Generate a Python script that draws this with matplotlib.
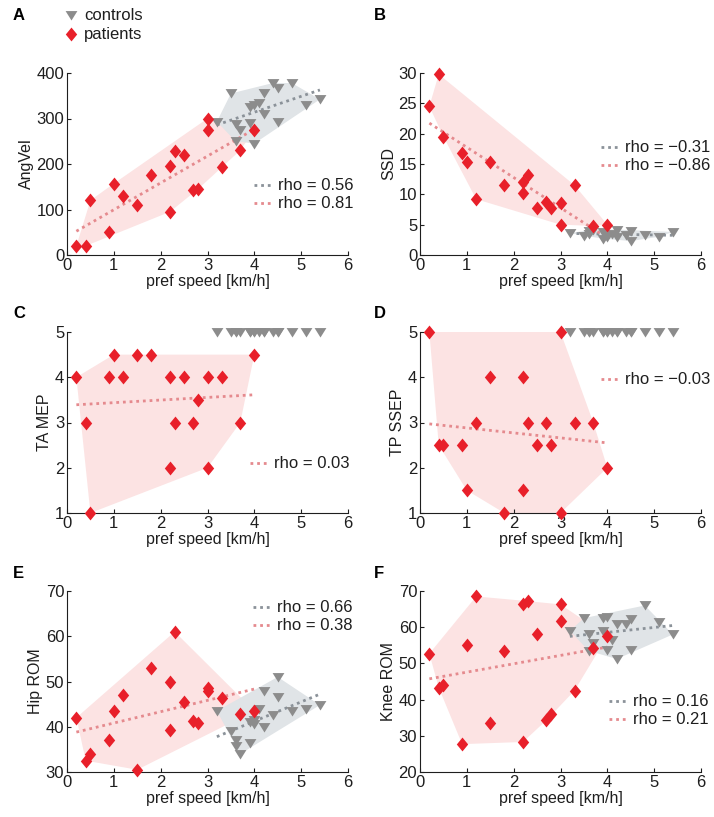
import numpy as np
import matplotlib
matplotlib.use("Agg")
import matplotlib.pyplot as plt
from matplotlib.path import Path
from matplotlib.lines import Line2D

plt.rcParams['font.family'] = ['Liberation Sans', 'DejaVu Sans']

# ---------------- data ----------------
pat_speed = [0.2, 0.4, 0.5, 0.9, 1.0, 1.2, 1.5, 1.8, 2.2, 2.2, 2.3, 2.5, 2.7, 2.8, 3.0, 3.0, 3.3, 3.7, 4.0]
ctl_speed = [3.2, 3.5, 3.6, 3.6, 3.7, 3.9, 3.9, 4.0, 4.0, 4.1, 4.2, 4.2, 4.4, 4.5, 4.5, 4.8, 5.1, 5.4]

pat_angvel = [20, 20, 120, 50, 157, 130, 110, 175, 95, 195, 228, 220, 143, 145, 300, 275, 193, 230, 275]
ctl_angvel = [293, 355, 288, 250, 275, 290, 325, 245, 330, 335, 355, 310, 378, 368, 293, 378, 330, 342]

pat_ssd = [24.5, 29.8, 19.5, 16.8, 15.4, 9.2, 15.3, 11.5, 12.0, 10.2, 13.2, 7.8, 8.8, 7.8, 8.6, 5.0, 11.5, 4.8, 5.0]
ctl_ssd = [3.6, 3.2, 4.0, 3.5, 4.2, 3.8, 2.7, 3.0, 3.2, 3.5, 4.2, 3.0, 3.3, 2.3, 4.0, 3.3, 3.0, 3.8]

pat_tamep = [4, 3, 1, 4, 4.5, 4, 4.5, 4.5, 4, 2, 3, 4, 3, 3.5, 4, 2, 4, 3, 4.5]
ctl_tamep = [5] * 18

pat_tpssep = [5, 2.5, 2.5, 2.5, 1.5, 3, 4, 1, 4, 1.5, 3, 2.5, 3, 2.5, 5, 1, 3, 3, 2]
ctl_tpssep = [5] * 18

pat_hip = [42, 32.5, 34, 37, 43.5, 47, 30.5, 53, 50, 39.3, 61, 45.5, 41.2, 40.8, 48.5, 47.8, 46.3, 42.8, 43.5]
ctl_hip = [43.5, 39, 37, 35.8, 34, 41, 36.5, 41.5, 40.5, 44, 48, 40, 42.5, 51, 46.5, 43.5, 44, 44.8]

pat_knee = [52.7, 43.3, 44, 27.7, 55, 68.5, 33.4, 53.5, 66.5, 28.3, 67.2, 58, 34.3, 36, 66.3, 61.8, 42.5, 54.3, 57.5]
ctl_knee = [59, 62.5, 58, 53.5, 55.5, 62.5, 59, 62.8, 53.8, 56.5, 60.8, 51.2, 61, 62.3, 53.8, 66, 61.5, 58]

panel_letters = ["A", "B", "C", "D", "E", "F"]
ylabels = ["AngVel", "SSD", "TA MEP", "TP SSEP", "Hip ROM", "Knee ROM"]
ylims = [(0, 400), (0, 30), (1, 5), (1, 5), (30, 70), (20, 70)]
yticks = [[0, 100, 200, 300, 400], [0, 5, 10, 15, 20, 25, 30], [1, 2, 3, 4, 5], [1, 2, 3, 4, 5],
          [30, 40, 50, 60, 70], [20, 30, 40, 50, 60, 70]]
xticks = [0, 1, 2, 3, 4, 5, 6]
rho_ctl = ["rho = 0.56", "rho = \u22120.31", None, "rho = \u22120.03", "rho = 0.66", "rho = 0.16"]
rho_pat = ["rho = 0.81", "rho = \u22120.86", "rho = 0.03", None, "rho = 0.38", "rho = 0.21"]
pat_vals = [pat_angvel, pat_ssd, pat_tamep, pat_tpssep, pat_hip, pat_knee]
ctl_vals = [ctl_angvel, ctl_ssd, ctl_tamep, ctl_tpssep, ctl_hip, ctl_knee]
ctl_hull_on = [True, True, False, False, True, True]
ctl_fit_on = [True, True, False, False, True, True]
pat_fit_on = [True, True, True, True, True, True]

# ---------------- style ----------------
RED = "#e8202a"
GREY = "#8c8c8c"
PINK_FILL = "#fce3e3"
GREY_FILL = "#e0e4e7"
PINK_LINE = "#e58a8e"
GREY_LINE = "#8b9299"
INK = "#1e1e1e"

W, H = 714, 817
fig = plt.figure(figsize=(W / 100, H / 100), dpi=100)

diamond = Path([(0, 1), (0.82, 0), (0, -1), (-0.82, 0), (0, 1)],
               [Path.MOVETO, Path.LINETO, Path.LINETO, Path.LINETO, Path.CLOSEPOLY])
tri = Path([(-1, 0.75), (1, 0.75), (0, -0.85), (-1, 0.75)],
           [Path.MOVETO, Path.LINETO, Path.LINETO, Path.CLOSEPOLY])


def hull(xs, ys):
    pts = sorted(set(zip(xs, ys)))
    if len(pts) < 3:
        return pts

    def cross(o, a, b):
        return (a[0] - o[0]) * (b[1] - o[1]) - (a[1] - o[1]) * (b[0] - o[0])
    lower, upper = [], []
    for p in pts:
        while len(lower) >= 2 and cross(lower[-2], lower[-1], p) <= 0:
            lower.pop()
        lower.append(p)
    for p in reversed(pts):
        while len(upper) >= 2 and cross(upper[-2], upper[-1], p) <= 0:
            upper.pop()
        upper.append(p)
    return lower[:-1] + upper[:-1]


def px_box(l, t, r, b):
    return [l / W, 1 - b / H, (r - l) / W, (b - t) / H]


boxes = [
    px_box(67, 73, 348, 255), px_box(420, 73, 701, 255),
    px_box(67, 332, 348, 513), px_box(420, 332, 701, 513),
    px_box(67, 591, 348, 772), px_box(420, 591, 701, 772),
]
letter_pos = [(13, 16), (374, 16), (13, 313), (374, 313), (13, 573), (374, 573)]
leg_pos = [(254, 185), (601, 147), (250, 463), (601, 379), (253, 607), (609, 701)]
ROW = 18
dots = (0, (1, 1.4))

for i in range(6):
    ax = fig.add_axes(boxes[i])
    px, py = np.array(pat_speed), np.array(pat_vals[i], dtype=float)
    cx, cy = np.array(ctl_speed), np.array(ctl_vals[i], dtype=float)

    hp = hull(px, py)
    ax.fill([p[0] for p in hp], [p[1] for p in hp], color=PINK_FILL, lw=0, zorder=1)
    if ctl_hull_on[i]:
        hc = hull(cx, cy)
        ax.fill([p[0] for p in hc], [p[1] for p in hc], color=GREY_FILL, lw=0, zorder=1.5)

    if ctl_fit_on[i]:
        k, b = np.polyfit(cx, cy, 1)
        xx = np.array([cx.min(), cx.max()])
        ax.plot(xx, k * xx + b, color=GREY_LINE, lw=2, ls=dots, zorder=2)
    if pat_fit_on[i]:
        k, b = np.polyfit(px, py, 1)
        xx = np.array([px.min(), px.max()])
        ax.plot(xx, k * xx + b, color=PINK_LINE, lw=2, ls=dots, zorder=2)

    ax.plot(cx, cy, ls="none", marker=tri, ms=8.5, color=GREY, mec="none", zorder=3, clip_on=False)
    ax.plot(px, py, ls="none", marker=diamond, ms=10, color=RED, mec="none", zorder=4, clip_on=False)

    ax.set_xlim(0, 6)
    ax.set_ylim(*ylims[i])
    ax.set_xticks(xticks)
    ax.set_yticks(yticks[i])
    for s in ["top", "right"]:
        ax.spines[s].set_visible(False)
    for s in ["left", "bottom"]:
        ax.spines[s].set_color(INK)
        ax.spines[s].set_linewidth(0.8)
    ax.tick_params(direction="in", length=3, width=0.8, labelsize=12, colors=INK, pad=2)
    ax.set_xlabel("pref speed [km/h]", fontsize=11.5, labelpad=1, color=INK)
    ax.set_ylabel(ylabels[i], fontsize=11.5, labelpad=2, color=INK)

    lx, ly = letter_pos[i]
    fig.text(lx / W, 1 - ly / H, panel_letters[i], fontsize=12, fontweight="bold",
             va="center", ha="left")

    entries = []
    if rho_ctl[i] is not None:
        col = PINK_LINE if i == 3 else GREY_LINE
        entries.append((rho_ctl[i], col))
    if rho_pat[i] is not None:
        entries.append((rho_pat[i], PINK_LINE))
    x0, y0 = leg_pos[i]
    for j, (lab, col) in enumerate(entries):
        yy = y0 + j * ROW
        fig.add_artist(Line2D([x0 / W, (x0 + 19) / W], [1 - yy / H, 1 - yy / H],
                              transform=fig.transFigure, color=col, lw=2, ls=dots))
        fig.text((x0 + 24) / W, 1 - yy / H, lab, fontsize=12, va="center", ha="left",
                 color=INK)

# top legend
fig.add_artist(Line2D([71 / W], [1 - 15 / H], transform=fig.transFigure, ls="none",
                      marker=tri, ms=8.5, color=GREY, mec="none"))
fig.text(84 / W, 1 - 15 / H, "controls", fontsize=12, va="center", ha="left", color=INK)
fig.add_artist(Line2D([71 / W], [1 - 34 / H], transform=fig.transFigure, ls="none",
                      marker=diamond, ms=10, color=RED, mec="none"))
fig.text(84 / W, 1 - 34 / H, "patients", fontsize=12, va="center", ha="left", color=INK)

fig.savefig("out.png", dpi=100)
